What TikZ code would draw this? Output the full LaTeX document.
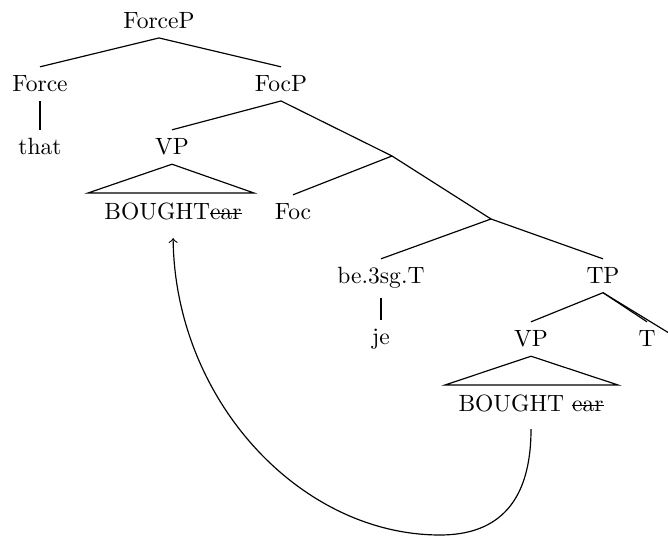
\documentclass[tikz,border=0pt]{standalone}
\newcommand\mystrike[1]{\setbox0\hbox{#1}\rlap{\rule[0.55ex]{\wd0}{0.4pt}}\box0}
\begin{document}
\begin{tikzpicture}[x=0.425pt,y=-0.425pt,
  lab/.style={anchor=base,inner xsep=1pt,inner ysep=3.5pt,text height=7pt},
  br/.style={line width=0.5pt},
  mv/.style={->,line width=0.5pt,shorten <=3.4pt,shorten >=3.8pt}]
\useasboundingbox (0,0) rectangle (668,537);
% nodes
\node[lab] (forcep) at (159,29) {ForceP};
\node[lab] (force) at (40,92) {Force};
\node[lab] (focp) at (281,92) {FocP};
\node[lab] (that) at (40,155) {that};
\node[lab] (vp1) at (172,155) {VP};
\coordinate (n1) at (392,156);
\node[lab] (foc) at (293,220) {Foc};
\node[lab] (b1) at (173,220) {BOUGHT\mystrike{ear}};
\coordinate (n2) at (491,219);
\node[lab] (be) at (381,284) {be.3sg.T};
\node[lab] (je) at (381,345) {je};
\node[lab] (tp) at (603,284) {TP};
\node[lab] (vp2) at (531,347) {VP};
\node[lab] (t) at (647,347) {T};
\coordinate (tx) at (700,352);
\node[lab] (b2) at (531,412) {BOUGHT \mystrike{ear}};
\coordinate (t1l) at (88,193);
\coordinate (t1r) at (254,193);
\coordinate (t2l) at (445,385);
\coordinate (t2r) at (618,385);
% branches
\draw[br] (forcep.south) -- (force.north);
\draw[br] (forcep.south) -- (focp.north);
\draw[br] (force.south) -- (that.north);
\draw[br] (focp.south) -- (vp1.north);
\draw[br] (focp.south) -- (n1);
\draw[br] (n1) -- (foc.north);
\draw[br] (n1) -- (n2);
\draw[br] (n2) -- (be.north);
\draw[br] (n2) -- (tp.north);
\draw[br] (be.south) -- (je.north);
\draw[br] (tp.south) -- (vp2.north);
\draw[br] (tp.south) -- (t.north);
\draw[br] (tp.south) -- (tx);
\draw[br] (vp1.south) -- (t1l) -- (t1r) -- cycle;
\draw[br] (vp2.south) -- (t2l) -- (t2r) -- cycle;
% movement arrow
\draw[mv] (b2.south) .. controls (531,500) and (500,535) .. (440,535)
  .. controls (300,535) and (175,400) .. (b1.south);
\end{tikzpicture}
\end{document}
